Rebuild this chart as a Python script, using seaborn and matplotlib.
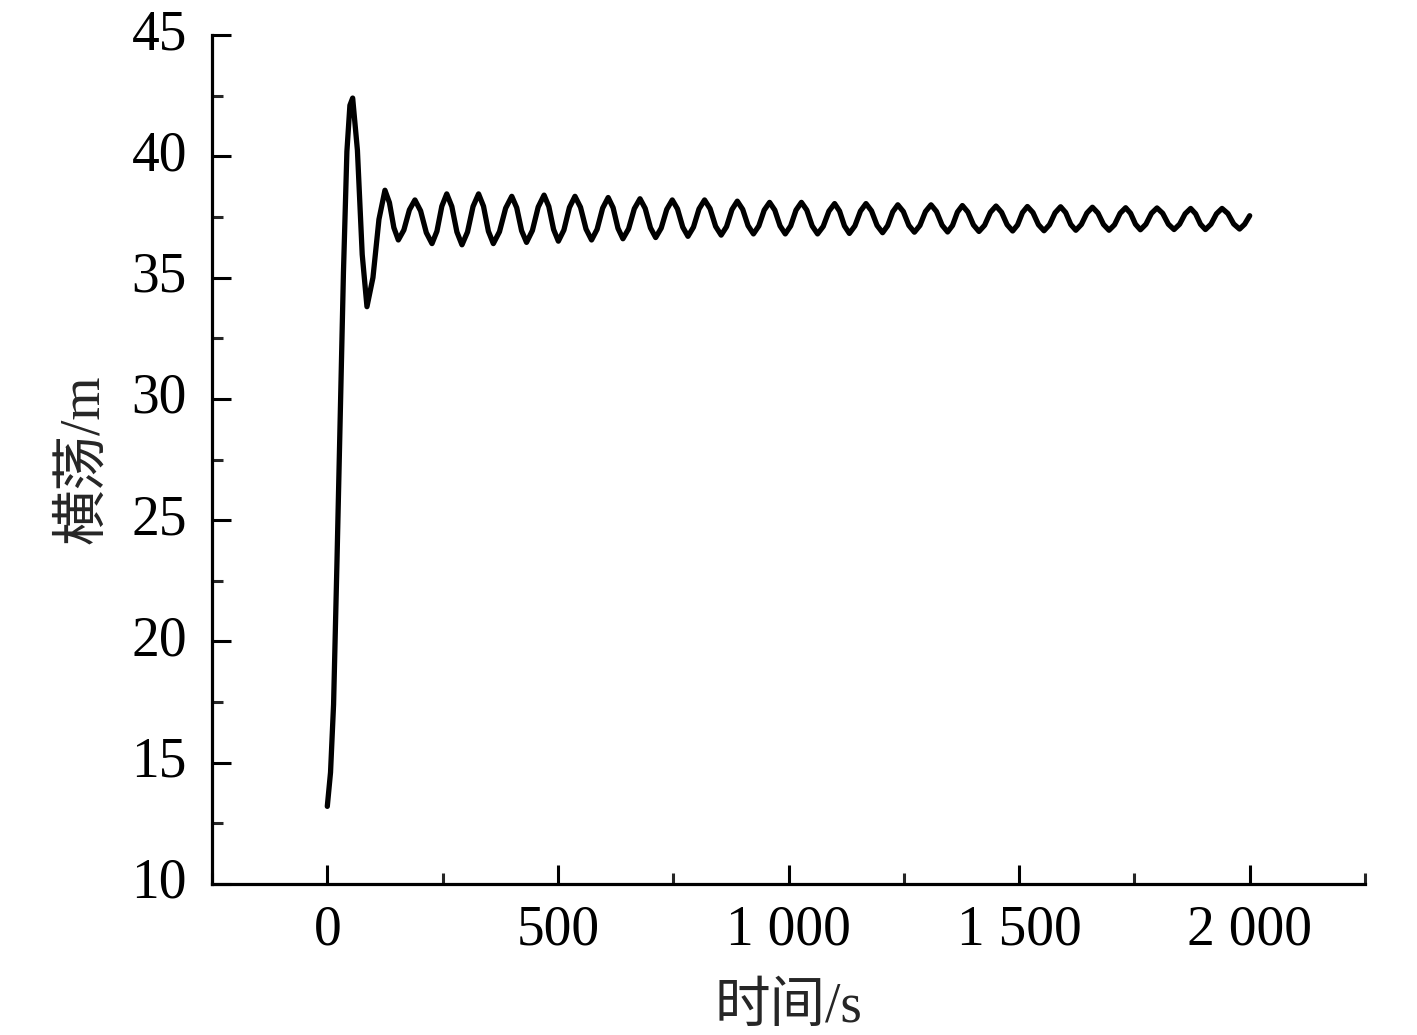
import numpy as np
import pandas as pd
import seaborn as sns
import matplotlib
matplotlib.use("Agg")
import matplotlib.pyplot as plt
from matplotlib.ticker import MultipleLocator

# ---- data ----
time_s = [
    0, 7, 13.6, 21, 28, 35, 42.5, 49, 55,
    65.3, 75.7, 86,
    99, 112, 125,
    134.7, 144.3, 154,
    166, 178, 190,
    202.3, 214.7, 227,
    237.7, 248.3, 259,
    270, 281, 292,
    304, 316, 328,
    338.7, 349.3, 360,
    373.3, 386.7, 400,
    410.7, 421.3, 432,
    444.7, 457.3, 470,
    480.3, 490.7, 501,
    513, 525, 537,
    549, 561, 573,
    585, 597, 609,
    619.7, 630.3, 641,
    653.3, 665.7, 678,
    689.3, 700.7, 712,
    724, 736, 748,
    759.3, 770.7, 782,
    794, 806, 818,
    830, 842, 854,
    865.7, 877.3, 889,
    900.7, 912.3, 924,
    935.7, 947.3, 959,
    970.3, 981.7, 993,
    1004.7, 1016.3, 1028,
    1039.7, 1051.3, 1063,
    1075.3, 1087.7, 1100,
    1110.7, 1121.3, 1132,
    1144, 1156, 1168,
    1180, 1192, 1204,
    1215, 1226, 1237,
    1249, 1261, 1273,
    1285, 1297, 1309,
    1321, 1333, 1345,
    1355.7, 1366.3, 1377,
    1389, 1401, 1413,
    1425.3, 1437.7, 1450,
    1462, 1474, 1486,
    1496.7, 1507.3, 1518,
    1530, 1542, 1554,
    1566, 1578, 1590,
    1601, 1612, 1623,
    1635, 1647, 1659,
    1671, 1683, 1695,
    1707, 1719, 1731,
    1741.7, 1752.3, 1763,
    1775, 1787, 1799,
    1811.3, 1823.7, 1836,
    1848, 1860, 1872,
    1882.7, 1893.3, 1904,
    1916, 1928, 1940,
    1952.7, 1965.3, 1978,
    1989, 2000,
]
sway_m = [
    13.2, 14.6, 17.4, 23.3, 29.3, 35.2, 40.2, 42.1, 42.4,
    40.25, 35.95, 33.8,
    35.0, 37.4, 38.6,
    38.09, 37.06, 36.55,
    36.96, 37.79, 38.2,
    37.75, 36.85, 36.4,
    36.91, 37.94, 38.45,
    37.93, 36.88, 36.35,
    36.88, 37.93, 38.45,
    37.94, 36.91, 36.4,
    36.89, 37.86, 38.35,
    37.88, 36.93, 36.45,
    36.94, 37.91, 38.4,
    37.93, 36.98, 36.5,
    36.96, 37.89, 38.35,
    37.9, 37.0, 36.55,
    36.99, 37.86, 38.3,
    37.88, 37.03, 36.6,
    37.01, 37.84, 38.25,
    37.85, 37.05, 36.65,
    37.04, 37.81, 38.2,
    37.83, 37.08, 36.7,
    37.08, 37.83, 38.2,
    37.84, 37.11, 36.75,
    37.1, 37.8, 38.15,
    37.81, 37.14, 36.8,
    37.13, 37.78, 38.1,
    37.78, 37.13, 36.8,
    37.13, 37.78, 38.1,
    37.78, 37.13, 36.8,
    37.11, 37.74, 38.05,
    37.74, 37.13, 36.82,
    37.13, 37.74, 38.05,
    37.75, 37.15, 36.85,
    37.14, 37.71, 38.0,
    37.72, 37.15, 36.87,
    37.15, 37.72, 38.0,
    37.72, 37.16, 36.88,
    37.15, 37.7, 37.97,
    37.7, 37.17, 36.9,
    37.16, 37.69, 37.95,
    37.69, 37.18, 36.92,
    37.17, 37.68, 37.93,
    37.68, 37.18, 36.93,
    37.18, 37.67, 37.92,
    37.68, 37.19, 36.95,
    37.19, 37.66, 37.9,
    37.66, 37.19, 36.95,
    37.18, 37.65, 37.88,
    37.65, 37.2, 36.97,
    37.2, 37.65, 37.87,
    37.65, 37.2, 36.98,
    37.2, 37.63, 37.85,
    37.63, 37.2, 36.98,
    37.2, 37.63, 37.85,
    37.64, 37.21, 37.0,
    37.2, 37.55,
]
x_ticks = [0, 500, 1000, 1500, 2000]
x_tick_labels = ["0", "500", "1 000", "1 500", "2 000"]
y_ticks = [10, 15, 20, 25, 30, 35, 40, 45]
x_label = "时间/s"
y_label = "横荡/m"

df = pd.DataFrame({"t": time_s, "y": sway_m})

sns.set_style("ticks")
plt.rcParams["font.family"] = ["Liberation Serif", "Noto Sans CJK SC"]
plt.rcParams["axes.unicode_minus"] = False

fig = plt.figure(figsize=(14.17, 10.35), dpi=100)
ax = fig.add_axes([212 / 1417, 1 - 884 / 1035, (1365 - 212) / 1417, (884 - 35) / 1035])

sns.lineplot(data=df, x="t", y="y", ax=ax, color="black", linewidth=3.8,
             estimator=None, sort=False)

ax.set_xlim(-250, 2250)
ax.set_ylim(10, 45)
ax.set_xticks(x_ticks)
ax.set_xticklabels(x_tick_labels)
ax.set_yticks(y_ticks)
ax.xaxis.set_minor_locator(MultipleLocator(250))
ax.yaxis.set_minor_locator(MultipleLocator(2.5))

for s in ["top", "right"]:
    ax.spines[s].set_visible(False)
for s in ["left", "bottom"]:
    ax.spines[s].set_linewidth(2.3)
    ax.spines[s].set_color("black")

ax.tick_params(axis="both", which="major", direction="in", length=14, width=2.2,
               labelsize=40, colors="black")
ax.tick_params(axis="both", which="minor", direction="in", length=8, width=2.2)
ax.tick_params(axis="x", which="major", pad=15)
ax.tick_params(axis="y", which="major", pad=18)
for lbl in ax.get_yticklabels():
    lbl.set_va("center")

ax.set_xlabel(x_label, fontsize=40)
ax.set_ylabel(y_label, fontsize=40)
ax.xaxis.set_label_coords(0.5, -0.146)
ax.xaxis.label.set_va("center")
ax.yaxis.set_label_coords(-0.111, 0.5)
ax.yaxis.label.set_va("center")

fig.savefig("out.png", dpi=100)
